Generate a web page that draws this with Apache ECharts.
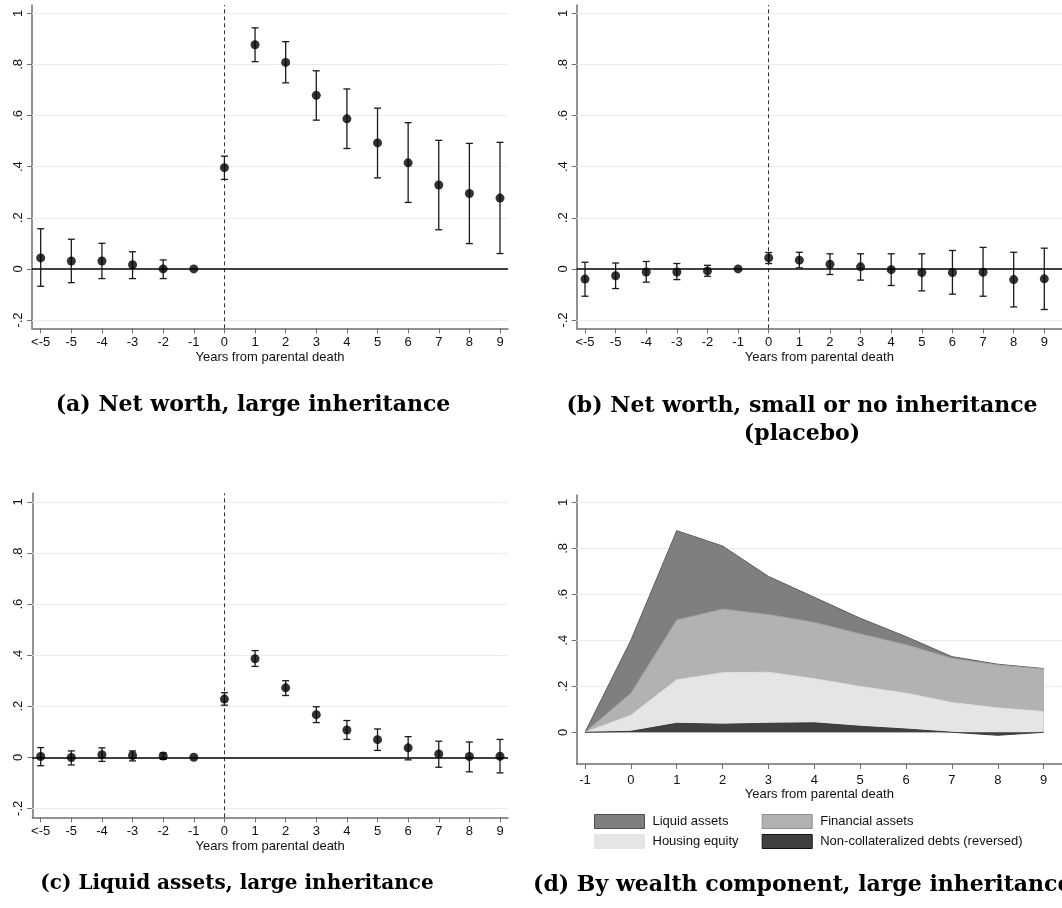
<!DOCTYPE html>
<html>
<head>
<meta charset="utf-8">
<script src="https://cdn.jsdelivr.net/npm/echarts@6/dist/echarts.min.js"></script>
<style>
html,body{margin:0;padding:0;background:#fff;}
#c{width:1062px;height:908px;}
</style>
</head>
<body>
<div id="c"></div>
<script>
// ---------- data ----------
const eventYears = [-6,-5,-4,-3,-2,-1,0,1,2,3,4,5,6,7,8,9];
const eventLabels = ['<-5','-5','-4','-3','-2','-1','0','1','2','3','4','5','6','7','8','9'];

const yTicks = [-0.2,0,0.2,0.4,0.6,0.8,1];
const yTickLabels = ['-.2','0','.2','.4','.6','.8','1'];

// (a) Net worth, large inheritance
const aEst = [0.043,0.031,0.031,0.016,0.000,0,0.396,0.877,0.808,0.679,0.587,0.493,0.415,0.328,0.295,0.277];
const aLo  = [-0.068,-0.054,-0.038,-0.038,-0.038,null,0.350,0.811,0.728,0.582,0.471,0.356,0.260,0.153,0.099,0.060];
const aHi  = [0.157,0.116,0.100,0.067,0.035,null,0.441,0.943,0.889,0.775,0.704,0.629,0.572,0.503,0.491,0.495];

// (b) Net worth, small or no inheritance (placebo)
const bEst = [-0.040,-0.027,-0.012,-0.012,-0.008,0,0.043,0.034,0.018,0.008,-0.003,-0.014,-0.014,-0.013,-0.042,-0.039];
const bLo  = [-0.107,-0.077,-0.052,-0.042,-0.029,null,0.021,0.004,-0.022,-0.044,-0.065,-0.086,-0.099,-0.107,-0.149,-0.159];
const bHi  = [0.026,0.023,0.029,0.021,0.014,null,0.064,0.065,0.059,0.059,0.059,0.059,0.072,0.084,0.065,0.081];

// (c) Liquid assets, large inheritance
const cEst = [0.003,-0.001,0.010,0.007,0.005,0,0.228,0.386,0.272,0.167,0.107,0.069,0.037,0.013,0.003,0.004];
const cLo  = [-0.033,-0.030,-0.016,-0.014,-0.008,null,0.204,0.356,0.242,0.136,0.070,0.027,-0.010,-0.039,-0.057,-0.061];
const cHi  = [0.038,0.025,0.037,0.025,0.017,null,0.253,0.418,0.300,0.198,0.144,0.111,0.081,0.063,0.060,0.070];

// (d) By wealth component (cumulative upper boundaries)
const dYears = [-1,0,1,2,3,4,5,6,7,8,9];
const dTicks = [0,0.2,0.4,0.6,0.8,1];
const dTickLabels = ['0','.2','.4','.6','.8','1'];
const liquidTop    = [0,0.400,0.877,0.810,0.678,0.587,0.496,0.416,0.329,0.296,0.277];
const financialTop = [0,0.170,0.488,0.536,0.512,0.478,0.428,0.381,0.322,0.293,0.275];
const housingTop   = [0,0.074,0.228,0.259,0.261,0.233,0.199,0.170,0.129,0.106,0.090];
const debtsTop     = [0,0.004,0.039,0.035,0.039,0.041,0.026,0.014,0.000,-0.013,0];

const componentNames = ['Liquid assets','Financial assets','Housing equity','Non-collateralized debts (reversed)'];

const xTitle = 'Years from parental death';
const captions = {
  a: '(a) Net worth, large inheritance',
  b: '(b) Net worth, small or no inheritance\n(placebo)',
  c: '(c) Liquid assets, large inheritance',
  d: '(d) By wealth component, large inheritance'
};

// ---------- styles ----------
const SANS = '"Liberation Sans", Arial, sans-serif';
const SERIF = '"DejaVu Serif", serif';
const AXIS_COLOR = '#6e6e6e';
const GRID_COLOR = '#e6eef0';
const TEXT_COLOR = '#111';

function labelFor(ticks, labels){
  return function(v){
    for (let i=0;i<ticks.length;i++){ if (Math.abs(ticks[i]-v) < 1e-6) return labels[i]; }
    return '';
  };
}

function xAxisDef(gridIndex, min, max, values, labels, labelMargin, nameGap){
  return {
    type:'value', gridIndex, min, max,
    name: xTitle, nameLocation:'middle', nameGap: nameGap,
    nameTextStyle:{color:TEXT_COLOR, fontSize:13, fontFamily:SANS, verticalAlign:'top'},
    axisLine:{show:true, onZero:false, lineStyle:{color:AXIS_COLOR, width:1.5}},
    axisTick:{show:true, length:5, customValues: values, lineStyle:{color:AXIS_COLOR, width:1}},
    axisLabel:{show:true, customValues: values, formatter: labelFor(values, labels),
      color:TEXT_COLOR, fontSize:13, fontFamily:SANS, margin: labelMargin},
    splitLine:{show:false}
  };
}
function yAxisDef(gridIndex, min, max, ticks, labels){
  return {
    type:'value', gridIndex, min, max,
    axisLine:{show:true, onZero:false, lineStyle:{color:AXIS_COLOR, width:1.5}},
    axisTick:{show:true, length:5, customValues: ticks, lineStyle:{color:AXIS_COLOR, width:1}},
    axisLabel:{show:true, customValues: ticks, formatter: labelFor(ticks, labels), rotate:90,
      color:TEXT_COLOR, fontSize:13, fontFamily:SANS, margin:7},
    splitLine:{show:false}
  };
}

function gridLinesSeries(idx, ticks){
  return {
    type:'line', xAxisIndex:idx, yAxisIndex:idx, data:[], silent:true, z:1,
    markLine:{silent:true, z:1, symbol:['none','none'], label:{show:false}, animation:false,
      lineStyle:{color:GRID_COLOR, width:1, type:'solid'},
      data: ticks.map(t => ({yAxis:t}))}
  };
}
function refLinesSeries(idx){
  return {
    type:'line', xAxisIndex:idx, yAxisIndex:idx, data:[], silent:true, z:2,
    markLine:{silent:true, z:2, symbol:['none','none'], label:{show:false}, animation:false,
      data:[
        {xAxis:0, lineStyle:{color:'#333', width:1, type:[4,3]}},
        {yAxis:0, lineStyle:{color:'#000', width:1.6, type:'solid'}}
      ]}
  };
}
function errorBarSeries(idx, lo, hi){
  const data = eventYears.map((x,i) => [x, lo[i], hi[i]]);
  return {
    type:'custom', xAxisIndex:idx, yAxisIndex:idx, z:3, silent:true,
    encode:{x:0, y:[1,2]},
    data,
    renderItem: function(params, api){
      const l = api.value(1), h = api.value(2);
      if (l === null || h === null || isNaN(l) || isNaN(h)) return null;
      const p1 = api.coord([api.value(0), l]);
      const p2 = api.coord([api.value(0), h]);
      const w = 3.5;
      const st = {stroke:'#1a1a1a', lineWidth:1.3};
      return {type:'group', children:[
        {type:'line', shape:{x1:p1[0], y1:p1[1], x2:p2[0], y2:p2[1]}, style:st},
        {type:'line', shape:{x1:p1[0]-w, y1:p1[1], x2:p1[0]+w, y2:p1[1]}, style:st},
        {type:'line', shape:{x1:p2[0]-w, y1:p2[1], x2:p2[0]+w, y2:p2[1]}, style:st}
      ]};
    }
  };
}
function pointSeries(idx, est){
  return {
    type:'scatter', xAxisIndex:idx, yAxisIndex:idx, z:4, silent:true,
    symbol:'circle', symbolSize:9, itemStyle:{color:'#000'},
    data: eventYears.map((x,i) => [x, est[i]])
  };
}

const areaFill = ['#7f7f7f','#b2b2b2','#e5e5e5','#404040'];
const areaEdge = ['#5c5c5c','#a0a0a0','#e0e0e0','#3a3a3a'];
const legendBorder = ['#4f4f4f','#8f8f8f','#e5e5e5','#111111'];
const areaData = [liquidTop, financialTop, housingTop, debtsTop];

function areaSeries(k){
  return {
    name: componentNames[k], type:'line', xAxisIndex:3, yAxisIndex:3, z:2+k,
    showSymbol:false, symbol:'none', smooth:false, silent:true,
    lineStyle:{color:areaEdge[k], width:1},
    itemStyle:{color:areaFill[k]},
    areaStyle:{color:areaFill[k], opacity:1, origin:0},
    data: dYears.map((x,i) => [x, areaData[k][i]])
  };
}

function legendCol(left, idxs){
  return {
    orient:'vertical', left, top:814, padding:0, itemWidth:50, itemHeight:14, itemGap:5,
    selectedMode:false, icon:'rect',
    textStyle:{color:TEXT_COLOR, fontSize:13, fontFamily:SANS, lineHeight:14, padding:[0,0,0,3]},
    data: idxs.map(k => ({name:componentNames[k], icon:'rect',
      itemStyle:{color:areaFill[k], borderColor:legendBorder[k], borderWidth:1}}))
  };
}

const option = {
  animation:false,
  backgroundColor:'#fff',
  grid:[
    {left:32, top:5, width:476, height:323.3},
    {left:576.7, top:5, width:485.3, height:323.3},
    {left:32.3, top:493.3, width:475.7, height:324},
    {left:576.7, top:495, width:485.3, height:269}
  ],
  xAxis:[
    xAxisDef(0, -6.284, 9.261, eventYears, eventLabels, 8, 23),
    xAxisDef(1, -6.271, 9.578, eventYears, eventLabels, 8, 23),
    xAxisDef(2, -6.274, 9.261, eventYears, eventLabels, 8, 23),
    xAxisDef(3, -1.181, 9.399, dYears, dYears.map(String), 10, 23)
  ],
  yAxis:[
    yAxisDef(0, -0.2325, 1.0325, yTicks, yTickLabels),
    yAxisDef(1, -0.2325, 1.0325, yTicks, yTickLabels),
    yAxisDef(2, -0.235, 1.034, yTicks, yTickLabels),
    yAxisDef(3, -0.138, 1.032, dTicks, dTickLabels)
  ],
  legend:[ legendCol(594, [0,2]), legendCol(761.7, [1,3]) ],
  series:[
    gridLinesSeries(0, [-0.2,0.2,0.4,0.6,0.8,1]),
    refLinesSeries(0),
    errorBarSeries(0, aLo, aHi),
    pointSeries(0, aEst),

    gridLinesSeries(1, [-0.2,0.2,0.4,0.6,0.8,1]),
    refLinesSeries(1),
    errorBarSeries(1, bLo, bHi),
    pointSeries(1, bEst),

    gridLinesSeries(2, [-0.2,0.2,0.4,0.6,0.8,1]),
    refLinesSeries(2),
    errorBarSeries(2, cLo, cHi),
    pointSeries(2, cEst),

    gridLinesSeries(3, [0.2,0.4,0.6,0.8,1]),
    areaSeries(0), areaSeries(1), areaSeries(2), areaSeries(3)
  ],
  graphic:[
    {type:'text', x:253, y:394, style:{text:captions.a, font:'bold 22px '+SERIF, fill:'#000', textAlign:'center'}},
    {type:'text', x:802, y:392, style:{text:captions.b, font:'bold 22px '+SERIF, fill:'#000', textAlign:'center', lineHeight:28}},
    {type:'text', x:237, y:874, style:{text:captions.c, font:'bold 20px '+SERIF, fill:'#000', textAlign:'center'}},
    {type:'text', x:533, y:874, style:{text:captions.d, font:'bold 22px '+SERIF, fill:'#000', textAlign:'left'}}
  ]
};

const chart = echarts.init(document.getElementById('c'), null, {renderer:'canvas'});
chart.setOption(option);
</script>
</body>
</html>
